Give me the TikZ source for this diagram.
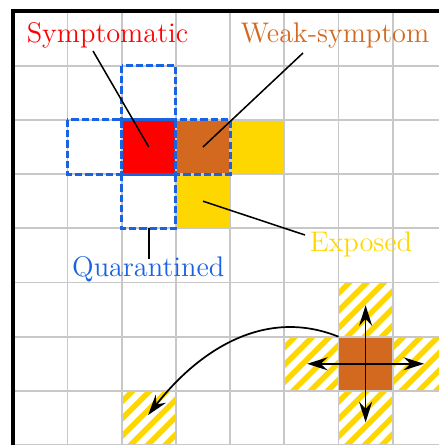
\documentclass[tikz,border=0pt]{standalone}
\usetikzlibrary{arrows.meta}

\definecolor{symred}{RGB}{255,0,0}
\definecolor{weakorange}{RGB}{210,105,30}
\definecolor{exposedgold}{RGB}{255,215,0}
\definecolor{quarblue}{RGB}{25,98,225}
\definecolor{gridgray}{RGB}{200,200,200}

\tikzset{
  gridline/.style={draw=gridgray, line width=0.9pt},
  frameline/.style={draw=black, line width=2.1pt},
  quarbox/.style={draw=quarblue, line width=1.6pt, dash pattern=on 3.8pt off 1.6pt},
  cellnode/.style={minimum size=1cm, inner sep=0pt, outer sep=0pt},
  labeltext/.style={font=\rmfamily\fontsize{14.9}{18}\selectfont, anchor=base, inner sep=0pt},
  pointer/.style={draw=black, line width=0.8pt},
  spread/.style={draw=black, line width=0.9pt, -{Stealth[length=3.8mm, width=2.4mm, inset=1.3mm]}},
}

% fill cell (column, row) counted from the top-left corner
\newcommand{\fillcell}[3]{\fill[#3] (#1,-#2) rectangle ++(1,-1);}
% yellow cell with white diagonal stripes
\newcommand{\hatchcell}[2]{%
  \begin{scope}
    \clip (#1,-#2) rectangle ++(1,-1);
    \fill[exposedgold] (#1,-#2) rectangle ++(1,-1);
    \foreach \k in {-4,...,4} {
      \draw[white, line width=3.4pt] (#1+0.32*\k-0.5,-#2-1.5) -- ++(2,2);
    }
  \end{scope}}

\begin{document}
\begin{tikzpicture}
  \useasboundingbox (-0.245,0.212) rectangle (7.854,-7.998);
  \clip (-0.245,0.212) rectangle (7.854,-7.998);

  % infected and exposed cells
  \fillcell{2}{2}{symred}
  \fillcell{3}{2}{weakorange}
  \fillcell{4}{2}{exposedgold}
  \fillcell{3}{3}{exposedgold}
  \fillcell{6}{6}{weakorange}
  \hatchcell{6}{5}
  \hatchcell{5}{6}
  \hatchcell{7}{6}
  \hatchcell{6}{7}
  \hatchcell{2}{7}

  % lattice
  \foreach \i in {1,...,8} {
    \draw[gridline] (\i,0) -- (\i,-8.2);
    \draw[gridline] (0,-\i) -- (8.2,-\i);
  }

  % quarantined neighbourhood of the symptomatic site
  \foreach \c/\r in {2/1, 1/2, 2/2, 3/2, 2/3} {
    \draw[quarbox] (\c,-\r) rectangle ++(1,-1);
  }

  % outer frame
  \draw[frameline] (0,-8.3) -- (0,0) -- (8.3,0);

  % named cell centres
  \node[cellnode] (sym) at (2.5,-2.5) {};
  \node[cellnode] (weak) at (3.5,-2.5) {};
  \node[cellnode] (expo) at (3.5,-3.5) {};
  \node[cellnode] (quar) at (2.5,-3.5) {};
  \node[cellnode] (src) at (6.5,-6.5) {};

  % labels
  \node[labeltext, text=symred] (symlabel) at (1.738,-0.576) {Symptomatic};
  \node[labeltext, text=weakorange] (weaklabel) at (5.935,-0.576) {Weak-symptom};
  \node[labeltext, text=exposedgold] (expolabel) at (6.415,-4.432) {Exposed};
  \node[labeltext, text=quarblue] (quarlabel) at (2.49,-4.893) {Quarantined};

  \coordinate (symtail) at (1.471,-0.729);
  \coordinate (weaktail) at (5.345,-0.766);
  \coordinate (expotail) at (5.382,-4.124);
  \coordinate (quartail) at (2.5,-4.567);

  \draw[pointer] (symtail) -- (sym.center);
  \draw[pointer] (weaktail) -- (weak.center);
  \draw[pointer] (expotail) -- (expo.center);
  \draw[pointer] (quar.south) -- (quartail);

  % spreading to the four neighbours
  \coordinate (nu) at (6.5,-5.42);
  \coordinate (nd) at (6.5,-7.58);
  \coordinate (nl) at (5.42,-6.5);
  \coordinate (nr) at (7.58,-6.5);
  \draw[spread] ([yshift=-2.5mm]src.center) -- (nu);
  \draw[spread] ([yshift=2.5mm]src.center) -- (nd);
  \draw[spread] ([xshift=2.5mm]src.center) -- (nl);
  \draw[spread] ([xshift=-2.5mm]src.center) -- (nr);

  % long-range jump
  \coordinate (jumptip) at (2.488,-7.445);
  \draw[spread] (src.north west) to[out=158, in=52] (jumptip);
\end{tikzpicture}
\end{document}
